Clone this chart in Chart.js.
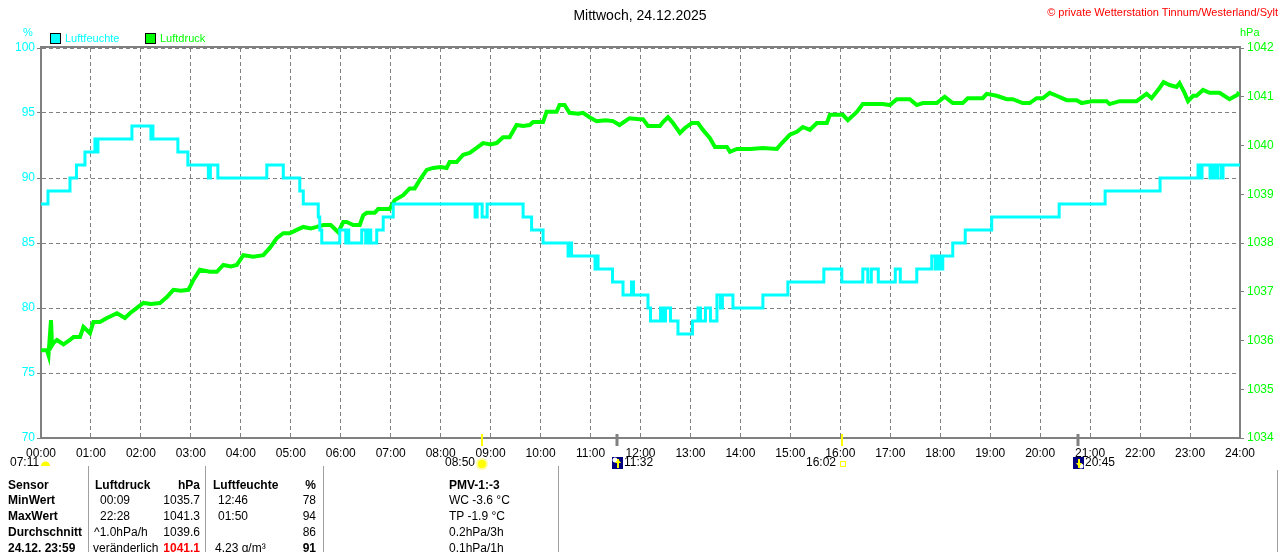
<!DOCTYPE html>
<html lang="de">
<head>
  <meta charset="UTF-8" />
  <title>Luftfeuchte / Luftdruck 24.12.2025</title>
  <script src="https://cdn.jsdelivr.net/npm/chart.js"></script>
  <style>
    body { margin: 0; background: #fff; }
    #wrap { position: relative; width: 1280px; height: 552px; overflow: hidden;
            font-family: "Liberation Sans", Arial, sans-serif; }
    #chart { position: absolute; left: 0; top: 0; }
    .t { position: absolute; white-space: nowrap; font-size: 12px; line-height: 16px; color: #000; }
    .b { font-weight: bold; }
    .r { text-align: right; }
    .sep { position: absolute; width: 1px; background: #a0a0a0; }
    .box { position: absolute; width: 9px; height: 9px; border: 1px solid #000; }
  </style>
</head>
<body>
<div id="wrap">
  <canvas id="chart" width="1280" height="552"></canvas>

  <div class="t" style="left:0;width:1280px;top:7px;text-align:center;font-size:14px;">Mittwoch, 24.12.2025</div>
  <div class="t" style="right:2px;top:4px;font-size:11px;color:#ff0000;">© private Wetterstation Tinnum/Westerland/Sylt</div>

  <div class="t" style="left:23px;top:24px;font-size:11px;color:#00ffff;">%</div>
  <div class="t" style="left:1240px;top:24px;font-size:11px;color:#00ff00;">hPa</div>

  <div class="box" style="left:50px;top:33px;background:#00ffff;"></div>
  <div class="t" style="left:65px;top:30px;font-size:11px;color:#00ffff;">Luftfeuchte</div>
  <div class="box" style="left:145px;top:33px;background:#00ff00;"></div>
  <div class="t" style="left:160px;top:30px;font-size:11px;color:#00ff00;">Luftdruck</div>

  <!-- table -->
  <div class="sep" style="left:88px;top:466px;height:86px;"></div>
  <div class="sep" style="left:205px;top:466px;height:86px;"></div>
  <div class="sep" style="left:323px;top:466px;height:86px;"></div>
  <div class="sep" style="left:558px;top:466px;height:86px;"></div>
  <div class="sep" style="left:1277px;top:470px;height:82px;"></div>

  <div class="t b" style="left:8px;top:477px;">Sensor</div>
  <div class="t b" style="left:95px;top:477px;">Luftdruck</div>
  <div class="t b r" style="left:150px;width:50px;top:477px;">hPa</div>
  <div class="t b" style="left:213px;top:477px;">Luftfeuchte</div>
  <div class="t b r" style="left:286px;width:30px;top:477px;">%</div>
  <div class="t b" style="left:449px;top:477px;">PMV-1:-3</div>

  <div class="t b" style="left:8px;top:492px;">MinWert</div>
  <div class="t" style="left:100px;top:492px;">00:09</div>
  <div class="t r" style="left:150px;width:50px;top:492px;">1035.7</div>
  <div class="t" style="left:218px;top:492px;">12:46</div>
  <div class="t r" style="left:286px;width:30px;top:492px;">78</div>
  <div class="t" style="left:449px;top:492px;">WC -3.6 °C</div>

  <div class="t b" style="left:8px;top:508px;">MaxWert</div>
  <div class="t" style="left:100px;top:508px;">22:28</div>
  <div class="t r" style="left:150px;width:50px;top:508px;">1041.3</div>
  <div class="t" style="left:218px;top:508px;">01:50</div>
  <div class="t r" style="left:286px;width:30px;top:508px;">94</div>
  <div class="t" style="left:449px;top:508px;">TP -1.9 °C</div>

  <div class="t b" style="left:8px;top:524px;">Durchschnitt</div>
  <div class="t" style="left:94px;top:524px;">^1.0hPa/h</div>
  <div class="t r" style="left:150px;width:50px;top:524px;">1039.6</div>
  <div class="t r" style="left:286px;width:30px;top:524px;">86</div>
  <div class="t" style="left:449px;top:524px;">0.2hPa/3h</div>

  <div class="t b" style="left:8px;top:540px;">24.12. 23:59</div>
  <div class="t" style="left:93px;top:540px;">veränderlich</div>
  <div class="t b r" style="left:150px;width:50px;top:540px;color:#ff0000;">1041.1</div>
  <div class="t" style="left:215px;top:540px;">4.23 g/m³</div>
  <div class="t b r" style="left:286px;width:30px;top:540px;">91</div>
  <div class="t" style="left:449px;top:540px;">0.1hPa/1h</div>
</div>

<script>
  // Luftfeuchte (%): step series, value holds from the given hour on
  const humTimes = [0, 0.14, 0.58, 0.71, 0.88, 1.08, 1.11, 1.14, 1.82, 2.20, 2.22, 2.24, 2.74, 2.94,
    3.35, 3.39, 3.54, 4.52, 4.85, 5.18, 5.25, 5.55, 5.58, 5.62, 5.98, 6.10, 6.14, 6.16, 6.42, 6.50,
    6.55, 6.60, 6.72, 6.85, 7.05, 8.69, 8.73, 8.83, 8.93, 9.65, 9.82, 10.05, 10.55, 10.58, 10.62,
    11.09, 11.12, 11.15, 11.44, 11.65, 11.82, 11.86, 12.15, 12.20, 12.40, 12.45, 12.50, 12.60,
    12.75, 13.04, 13.15, 13.20, 13.30, 13.40, 13.53, 13.60, 13.64, 13.85, 14.45, 14.95, 15.67,
    16.03, 16.45, 16.55, 16.62, 16.76, 17.10, 17.20, 17.53, 17.83, 17.90, 17.95, 18.00, 18.05,
    18.25, 18.50, 19.03, 20.38, 21.30, 22.40, 23.16, 23.20, 23.24, 23.40, 23.45, 23.50, 23.55,
    23.62, 23.66, 24.00];
  const humValues = [88, 89, 90, 91, 92, 93, 92, 93, 94, 93, 94, 93, 92, 91,
    90, 91, 90, 91, 90, 89, 88, 87, 86, 85, 86, 85, 86, 85, 86, 85,
    86, 85, 86, 87, 88, 87, 88, 87, 88, 87, 86, 85, 84, 85, 84,
    83, 84, 83, 82, 81, 82, 81, 80, 79, 80, 79, 80, 79,
    78, 79, 80, 79, 80, 79, 81, 80, 81, 80, 81, 82, 83,
    82, 83, 82, 83, 82, 83, 82, 83, 84, 83, 84, 83, 84,
    85, 86, 87, 88, 89, 90, 91, 90, 91, 90, 91, 90, 91,
    90, 91, 91];

  // Luftdruck (hPa)
  const pressTimes = [0.00, 0.12, 0.15, 0.20, 0.22, 0.25, 0.32, 0.45, 0.58, 0.65, 0.78, 0.85, 0.98,
    1.05, 1.18, 1.32, 1.52, 1.68, 1.78, 1.92, 2.05, 2.20, 2.38, 2.52, 2.65, 2.80, 2.95, 3.05, 3.18,
    3.38, 3.52, 3.65, 3.80, 3.92, 4.05, 4.25, 4.45, 4.58, 4.72, 4.85, 4.98, 5.12, 5.25, 5.40, 5.52,
    5.65, 5.80, 5.95, 6.05, 6.12, 6.25, 6.38, 6.45, 6.52, 6.68, 6.75, 6.98, 7.08, 7.25, 7.38, 7.48,
    7.58, 7.72, 7.85, 8.00, 8.12, 8.18, 8.32, 8.45, 8.58, 8.72, 8.85, 9.00, 9.12, 9.25, 9.38, 9.52,
    9.65, 9.78, 9.85, 10.05, 10.12, 10.32, 10.38, 10.48, 10.58, 10.75, 10.85, 10.98, 11.12, 11.30,
    11.45, 11.58, 11.78, 11.98, 12.05, 12.15, 12.39, 12.45, 12.55, 12.65, 12.79, 12.89, 13.03,
    13.15, 13.25, 13.39, 13.49, 13.73, 13.79, 13.93, 14.20, 14.45, 14.73, 14.83, 14.99, 15.13,
    15.25, 15.39, 15.53, 15.73, 15.79, 16.05, 16.15, 16.33, 16.45, 16.85, 16.99, 17.13, 17.39,
    17.53, 17.65, 17.93, 18.09, 18.25, 18.45, 18.55, 18.85, 18.93, 19.13, 19.33, 19.45, 19.65,
    19.79, 19.93, 20.05, 20.19, 20.33, 20.53, 20.73, 20.83, 21.05, 21.33, 21.39, 21.59, 21.93,
    22.13, 22.23, 22.39, 22.47, 22.59, 22.73, 22.79, 22.89, 22.96, 23.06, 23.13, 23.26, 23.39,
    23.59, 23.79, 23.95, 23.98];
  const pressValues = [1035.80, 1035.80, 1035.70, 1036.42, 1035.90, 1035.95, 1036.01, 1035.92,
    1036.01, 1036.07, 1036.07, 1036.28, 1036.15, 1036.38, 1036.38, 1036.46, 1036.56, 1036.46,
    1036.56, 1036.67, 1036.77, 1036.75, 1036.77, 1036.89, 1037.04, 1037.02, 1037.04, 1037.24,
    1037.45, 1037.41, 1037.41, 1037.55, 1037.52, 1037.55, 1037.75, 1037.72, 1037.75, 1037.90,
    1038.10, 1038.20, 1038.20, 1038.27, 1038.33, 1038.30, 1038.33, 1038.37, 1038.37, 1038.22,
    1038.43, 1038.43, 1038.37, 1038.37, 1038.57, 1038.62, 1038.62, 1038.70, 1038.70, 1038.88,
    1038.98, 1039.12, 1039.12, 1039.29, 1039.50, 1039.54, 1039.56, 1039.54, 1039.66, 1039.66,
    1039.81, 1039.85, 1039.95, 1040.05, 1040.02, 1040.05, 1040.17, 1040.17, 1040.42, 1040.40,
    1040.42, 1040.48, 1040.48, 1040.69, 1040.69, 1040.83, 1040.83, 1040.67, 1040.65, 1040.67,
    1040.58, 1040.50, 1040.52, 1040.50, 1040.42, 1040.56, 1040.54, 1040.54, 1040.40, 1040.40,
    1040.48, 1040.58, 1040.46, 1040.26, 1040.36, 1040.46, 1040.46, 1040.32, 1040.15, 1039.97,
    1039.97, 1039.87, 1039.93, 1039.93, 1039.95, 1039.93, 1040.05, 1040.22, 1040.28, 1040.38,
    1040.32, 1040.46, 1040.46, 1040.63, 1040.63, 1040.52, 1040.69, 1040.85, 1040.85, 1040.83,
    1040.95, 1040.95, 1040.83, 1040.87, 1040.87, 1041.00, 1040.87, 1040.87, 1040.97, 1040.97,
    1041.06, 1041.02, 1040.95, 1040.95, 1040.87, 1040.87, 1040.97, 1040.97, 1041.08, 1041.02,
    1040.93, 1040.93, 1040.87, 1040.91, 1040.91, 1040.85, 1040.91, 1040.91, 1041.06, 1040.97,
    1041.18, 1041.30, 1041.24, 1041.20, 1041.28, 1041.08, 1040.91, 1041.02, 1041.02, 1041.14,
    1041.08, 1041.08, 1040.95, 1041.04, 1041.10];

  // Dämmerung / Sonne / Mond
  const dawnLabel = '07:11';
  const astroTimes = [8 + 50 / 60, 11 + 32 / 60, 16 + 2 / 60, 20 + 45 / 60];
  const astroLabels = ['08:50', '11:32', '16:02', '20:45'];
  const astroKinds = ['sunrise', 'moonrise', 'sunset', 'moonset'];

  const CYAN = '#00ffff';
  const GREEN = '#00ff00';
  const AXIS = '#808080';
  const FONT = '"Liberation Sans", Arial, sans-serif';

  const humPoints = humTimes.map((t, i) => ({ x: t, y: humValues[i] }));
  const pressPoints = pressTimes.map((t, i) => ({ x: t, y: pressValues[i] }));

  function pad2(n) { return (n < 10 ? '0' : '') + n; }

  const decorations = {
    id: 'decorations',
    afterDraw(chart) {
      const ctx = chart.ctx;
      const a = chart.chartArea;
      const xs = chart.scales.x;
      ctx.save();
      // top frame line
      ctx.strokeStyle = AXIS;
      ctx.lineWidth = 2;
      ctx.beginPath();
      ctx.moveTo(a.left - 1, a.top - 1);
      ctx.lineTo(a.right + 1, a.top - 1);
      ctx.stroke();

      ctx.font = '12px ' + FONT;
      ctx.textBaseline = 'middle';
      ctx.fillStyle = '#000';

      // dawn label at left edge
      ctx.textAlign = 'left';
      ctx.fillText(dawnLabel, 10, 463);
      ctx.fillStyle = '#ffff00';
      ctx.beginPath();
      ctx.arc(45.5, 466, 4.5, Math.PI, 0);
      ctx.closePath();
      ctx.fill();

      astroTimes.forEach((t, i) => {
        const px = Math.round(xs.getPixelForValue(t));
        const kind = astroKinds[i];
        const sun = kind === 'sunrise' || kind === 'sunset';
        // marker on the axis
        ctx.strokeStyle = sun ? '#ffff00' : AXIS;
        ctx.lineWidth = sun ? 2 : 3;
        ctx.beginPath();
        ctx.moveTo(px, a.bottom - 4);
        ctx.lineTo(px, a.bottom + 8);
        ctx.stroke();

        ctx.fillStyle = '#000';
        if (kind === 'sunrise') {
          ctx.textAlign = 'right';
          ctx.fillText(astroLabels[i], px - 7, 463);
          ctx.fillStyle = '#ffffa0';
          ctx.beginPath(); ctx.arc(px, 464, 6, 0, Math.PI * 2); ctx.fill();
          ctx.fillStyle = '#ffff00';
          ctx.beginPath(); ctx.arc(px, 464, 4, 0, Math.PI * 2); ctx.fill();
        } else if (kind === 'sunset') {
          ctx.textAlign = 'right';
          ctx.fillText(astroLabels[i], px - 6, 463);
          ctx.strokeStyle = '#ffff00';
          ctx.lineWidth = 1;
          ctx.strokeRect(px - 1.5, 461.5, 5, 5);
        } else {
          const bx = px - 5;
          ctx.fillStyle = '#000080';
          ctx.fillRect(bx, 457, 11, 12);
          ctx.fillStyle = '#ffffff';
          ctx.beginPath();
          if (kind === 'moonrise') ctx.arc(bx + 3, 460, 2.5, 0, Math.PI * 2);
          else ctx.arc(bx + 8, 466, 2.5, 0, Math.PI * 2);
          ctx.fill();
          ctx.strokeStyle = '#ffff00';
          ctx.fillStyle = '#ffff00';
          ctx.lineWidth = 2;
          ctx.beginPath();
          ctx.moveTo(bx + 6, 459); ctx.lineTo(bx + 6, 468);
          ctx.stroke();
          ctx.beginPath();
          if (kind === 'moonrise') { ctx.moveTo(bx + 3, 463); ctx.lineTo(bx + 6, 459); ctx.lineTo(bx + 9, 463); }
          else { ctx.moveTo(bx + 3, 463); ctx.lineTo(bx + 6, 467); ctx.lineTo(bx + 9, 463); }
          ctx.fill();
          ctx.fillStyle = '#000';
          ctx.textAlign = 'left';
          ctx.fillText(astroLabels[i], bx + 12, 463);
        }
      });
      ctx.restore();
    }
  };

  new Chart(document.getElementById('chart'), {
    type: 'line',
    data: {
      datasets: [{
        label: 'Luftfeuchte',
        data: humPoints,
        yAxisID: 'y',
        borderColor: CYAN,
        borderWidth: 3,
        pointRadius: 0,
        stepped: 'before',
        fill: false
      }, {
        label: 'Luftdruck',
        data: pressPoints,
        yAxisID: 'y1',
        borderColor: GREEN,
        borderWidth: 4,
        pointRadius: 0,
        tension: 0,
        fill: false
      }]
    },
    options: {
      responsive: false,
      animation: false,
      devicePixelRatio: 1,
      layout: { padding: { top: 48, left: 0, right: 0, bottom: 0 } },
      plugins: { legend: { display: false }, tooltip: { enabled: false }, title: { display: false } },
      scales: {
        x: {
          type: 'linear',
          min: 0, max: 24,
          afterFit(scale) { scale.height = 114; },
          ticks: {
            stepSize: 1, autoSkip: false, maxRotation: 0, padding: 8,
            color: '#000', font: { family: FONT, size: 12 },
            callback: v => pad2(v) + ':00'
          },
          grid: { color: AXIS, lineWidth: 1, drawTicks: false },
          border: { display: true, color: AXIS, width: 2, dash: [4, 3] }
        },
        y: {
          position: 'left',
          min: 70, max: 100,
          afterFit(scale) { scale.width = 41; },
          ticks: { stepSize: 5, padding: 2, color: CYAN, font: { family: FONT, size: 12 } },
          grid: { color: AXIS, lineWidth: 1, drawTicks: true, tickLength: 4, tickBorderDash: [] },
          border: { display: true, color: AXIS, width: 2, dash: [4, 3] }
        },
        y1: {
          position: 'right',
          min: 1034, max: 1042,
          afterFit(scale) { scale.width = 40; },
          ticks: {
            stepSize: 1, padding: 3, color: GREEN, font: { family: FONT, size: 12 },
            callback: v => String(v)
          },
          grid: { color: AXIS, lineWidth: 1, drawOnChartArea: false, drawTicks: true, tickLength: 4, tickBorderDash: [] },
          border: { display: true, color: AXIS, width: 2 }
        }
      }
    },
    plugins: [decorations]
  });
</script>
</body>
</html>
